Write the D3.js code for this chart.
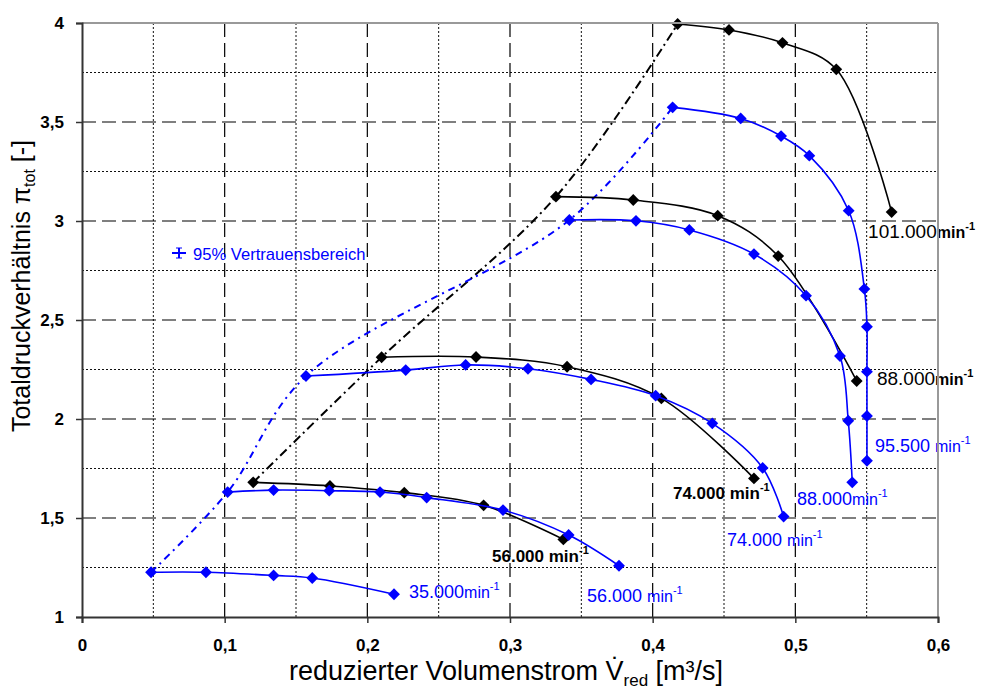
<!DOCTYPE html>
<html>
<head>
<meta charset="utf-8">
<style>
  html, body { margin: 0; padding: 0; background: #fff; }
  svg { display: block; font-family: "Liberation Sans", Arial, sans-serif; }
</style>
</head>
<body>
<svg id="chart" width="981" height="689"></svg>
<script src="https://cdnjs.cloudflare.com/ajax/libs/d3/7.8.5/d3.min.js"></script>
<script>
// ---- data ----
var xTicks = [0, 0.1, 0.2, 0.3, 0.4, 0.5, 0.6];
var yTicks = [1, 1.5, 2, 2.5, 3, 3.5, 4];
var xMinor = [0.05, 0.15, 0.25, 0.35, 0.45, 0.55];
var yMinor = [1.25, 1.75, 2.25, 2.75, 3.25, 3.75];

// black = measurement, blue = simulation
var black101X = [0.4175, 0.4535, 0.491, 0.5287, 0.5675];
var black101Y = [3.995, 3.965, 3.90, 3.766, 3.045];
var black88X = [0.3322, 0.3864, 0.4456, 0.488, 0.543];
var black88Y = [3.123, 3.106, 3.027, 2.823, 2.192];
var black74X = [0.210, 0.2762, 0.340, 0.4061, 0.471];
var black74Y = [2.312, 2.313, 2.264, 2.104, 1.700];
var black56X = [0.120, 0.1738, 0.2259, 0.2815, 0.3374];
var black56Y = [1.680, 1.662, 1.628, 1.564, 1.392];

var blue955X = [0.414, 0.4617, 0.490, 0.5098, 0.5374, 0.5484, 0.5502, 0.5502, 0.5502, 0.5502];
var blue955Y = [3.574, 3.518, 3.429, 3.330, 3.052, 2.657, 2.466, 2.239, 2.015, 1.789];
var blue88X = [0.3416, 0.3883, 0.4257, 0.471, 0.5075, 0.5313, 0.5371, 0.5399];
var blue88Y = [3.005, 3.001, 2.955, 2.833, 2.623, 2.318, 1.991, 1.680];
var blue74X = [0.157, 0.2269, 0.2689, 0.3126, 0.3568, 0.4021, 0.4418, 0.4771, 0.4918];
var blue74Y = [2.217, 2.247, 2.273, 2.254, 2.200, 2.118, 1.978, 1.753, 1.507];
var blue56X = [0.1021, 0.1343, 0.1733, 0.2089, 0.2416, 0.2951, 0.3411, 0.3764];
var blue56Y = [1.631, 1.641, 1.638, 1.631, 1.603, 1.540, 1.414, 1.259];
var blue35X = [0.0484, 0.0869, 0.1343, 0.1614, 0.2187];
var blue35Y = [1.226, 1.226, 1.210, 1.197, 1.115];

// surge lines run through the first point of each speed line
var surgeBlackX = [black56X[0], black74X[0], black88X[0], black101X[0]];
var surgeBlackY = [black56Y[0], black74Y[0], black88Y[0], black101Y[0]];
var surgeBlueX = [blue35X[0], blue56X[0], blue74X[0], blue88X[0], blue955X[0]];
var surgeBlueY = [blue35Y[0], blue56Y[0], blue74Y[0], blue88Y[0], blue955Y[0]];

function zip(xs, ys) { return xs.map(function (v, i) { return [v, ys[i]]; }); }

var series = [
  {pts: zip(black101X, black101Y), color: "#000"},
  {pts: zip(black88X, black88Y), color: "#000"},
  {pts: zip(black74X, black74Y), color: "#000"},
  {pts: zip(black56X, black56Y), color: "#000"},
  {pts: zip(blue955X, blue955Y), color: "#0000ff"},
  {pts: zip(blue88X, blue88Y), color: "#0000ff"},
  {pts: zip(blue74X, blue74Y), color: "#0000ff"},
  {pts: zip(blue56X, blue56Y), color: "#0000ff"},
  {pts: zip(blue35X, blue35Y), color: "#0000ff"}
];

// speed labels, anchored in data units
var speedLabels = [
  {num: "101.000", x: 0.551, y: 2.914, color: "#000", numW: "normal", numS: 19, unitW: "bold", unitS: 16},
  {num: "88.000", x: 0.5572, y: 2.172, color: "#000", numW: "normal", numS: 19, unitW: "bold", unitS: 16},
  {num: "74.000 ", x: 0.4142, y: 1.596, color: "#000", numW: "bold", numS: 17, unitW: "bold", unitS: 17},
  {num: "56.000 ", x: 0.2874, y: 1.278, color: "#000", numW: "bold", numS: 17, unitW: "bold", unitS: 17},
  {num: "95.500 ", x: 0.5558, y: 1.833, color: "#0000ff", numW: "normal", numS: 18, unitW: "normal", unitS: 16},
  {num: "88.000", x: 0.5012, y: 1.566, color: "#0000ff", numW: "normal", numS: 18, unitW: "normal", unitS: 16},
  {num: "74.000 ", x: 0.4521, y: 1.359, color: "#0000ff", numW: "normal", numS: 18, unitW: "normal", unitS: 16},
  {num: "56.000 ", x: 0.354, y: 1.076, color: "#0000ff", numW: "normal", numS: 18, unitW: "normal", unitS: 16},
  {num: "35.000", x: 0.2292, y: 1.096, color: "#0000ff", numW: "normal", numS: 18, unitW: "normal", unitS: 16}
];

// ---- drawing ----
var svg = d3.select("#chart");
svg.append("rect").attr("width", 981).attr("height", 689).attr("fill", "#fff");

var x = d3.scaleLinear().domain([0, 0.6]).range([82, 938]);
var y = d3.scaleLinear().domain([1, 4]).range([617, 23]);
var de = d3.formatLocale({decimal: ",", thousands: ".", grouping: [3], currency: ["", ""]});
var fmt = de.format(".1~f");

var grid = svg.append("g");
// minor dotted grid
grid.selectAll(".mx").data(xMinor).enter().append("line")
  .attr("x1", function (d) { return x(d); }).attr("x2", function (d) { return x(d); })
  .attr("y1", y(1)).attr("y2", y(4))
  .attr("stroke", "#111").attr("stroke-width", 1).attr("stroke-dasharray", "2,2");
grid.selectAll(".my").data(yMinor).enter().append("line")
  .attr("y1", function (d) { return y(d); }).attr("y2", function (d) { return y(d); })
  .attr("x1", x(0)).attr("x2", x(0.6))
  .attr("stroke", "#111").attr("stroke-width", 1).attr("stroke-dasharray", "2,2");
// major dashed grid
grid.selectAll(".gx").data(xTicks.slice(1, -1)).enter().append("line")
  .attr("x1", function (d) { return x(d); }).attr("x2", function (d) { return x(d); })
  .attr("y1", y(1)).attr("y2", y(4))
  .attr("stroke", "#000").attr("stroke-width", 1.2).attr("stroke-dasharray", "14,6");
grid.selectAll(".gy").data(yTicks.slice(1, -1)).enter().append("line")
  .attr("y1", function (d) { return y(d); }).attr("y2", function (d) { return y(d); })
  .attr("x1", x(0)).attr("x2", x(0.6))
  .attr("stroke", "#000").attr("stroke-width", 1.2).attr("stroke-dasharray", "14,6");

var line = d3.line()
  .x(function (d) { return x(d[0]); })
  .y(function (d) { return y(d[1]); })
  .curve(d3.curveCatmullRom.alpha(0.5));

// surge lines
svg.append("path").attr("d", line(zip(surgeBlackX, surgeBlackY)))
  .attr("fill", "none").attr("stroke", "#000").attr("stroke-width", 2)
  .attr("stroke-dasharray", "9,4,2,4");
svg.append("path").attr("d", line(zip(surgeBlueX, surgeBlueY)))
  .attr("fill", "none").attr("stroke", "#0000ff").attr("stroke-width", 2)
  .attr("stroke-dasharray", "7,5,2,5");

// speed lines + diamonds
var diamond = d3.symbol().type(d3.symbolSquare).size(70);
series.forEach(function (s) {
  svg.append("path").attr("d", line(s.pts))
    .attr("fill", "none").attr("stroke", s.color).attr("stroke-width", 1.6);
  svg.append("g").selectAll("path").data(s.pts).enter().append("path")
    .attr("d", diamond)
    .attr("transform", function (d) { return "translate(" + x(d[0]) + "," + y(d[1]) + ") rotate(45)"; })
    .attr("fill", s.color);
});

// labels
speedLabels.forEach(function (l) {
  var t = svg.append("text").attr("x", x(l.x)).attr("y", y(l.y)).attr("fill", l.color);
  t.append("tspan").attr("font-size", l.numS).attr("font-weight", l.numW).text(l.num);
  t.append("tspan").attr("font-size", l.unitS).attr("font-weight", l.unitW).text("min");
  t.append("tspan").attr("font-size", 11).attr("font-weight", l.unitW).attr("dy", -8).text("-1");
});

// legend
var lg = svg.append("g").attr("stroke", "#0000ff").attr("stroke-width", 2);
lg.append("line").attr("x1", 172).attr("x2", 186).attr("y1", 253).attr("y2", 253);
lg.append("line").attr("x1", 179).attr("x2", 179).attr("y1", 248).attr("y2", 258);
lg.append("line").attr("x1", 176).attr("x2", 182).attr("y1", 248).attr("y2", 248).attr("stroke-width", 1);
lg.append("line").attr("x1", 176).attr("x2", 182).attr("y1", 258).attr("y2", 258).attr("stroke-width", 1);
svg.append("text").attr("x", 193).attr("y", 260).attr("font-size", 16.6).attr("fill", "#0000ff")
  .text("95% Vertrauensbereich");

// frame
svg.append("line").attr("x1", x(0)).attr("x2", x(0.6)).attr("y1", y(4)).attr("y2", y(4))
  .attr("stroke", "#999").attr("stroke-width", 2);
svg.append("line").attr("x1", x(0.6)).attr("x2", x(0.6)).attr("y1", y(4)).attr("y2", y(1))
  .attr("stroke", "#999").attr("stroke-width", 2);

// axes
var xAxis = svg.append("g").attr("transform", "translate(0," + y(1) + ")")
  .call(d3.axisBottom(x).tickValues(xTicks).tickFormat(fmt).tickSizeOuter(0).tickSize(6).tickPadding(16));
var yAxis = svg.append("g").attr("transform", "translate(" + x(0) + ",0)")
  .call(d3.axisLeft(y).tickValues(yTicks).tickFormat(fmt).tickSizeOuter(0).tickSize(6).tickPadding(12));
[xAxis, yAxis].forEach(function (a) {
  a.select(".domain").attr("stroke", "#333").attr("stroke-width", 2);
  a.selectAll(".tick line").attr("stroke", "#333").attr("stroke-width", 1.5);
  a.selectAll(".tick text").attr("font-family", "Liberation Sans, Arial, sans-serif")
    .attr("font-size", 17).attr("font-weight", "bold").attr("fill", "#000");
});

// axis titles
var xt = svg.append("text").attr("x", 506).attr("y", 680).attr("text-anchor", "middle")
  .attr("font-size", 27).attr("fill", "#000");
xt.append("tspan").text("reduzierter Volumenstrom V\u0307");
xt.append("tspan").attr("font-size", 17).attr("dy", 6).text("red");
xt.append("tspan").attr("dy", -6).text(" [m\u00b3/s]");

var yt = svg.append("text").attr("transform", "translate(30,286) rotate(-90)")
  .attr("text-anchor", "middle").attr("font-size", 25).attr("fill", "#000");
yt.append("tspan").text("Totaldruckverh\u00e4ltnis \u03c0");
yt.append("tspan").attr("font-size", 16).attr("dy", 5).text("tot");
yt.append("tspan").attr("dy", -5).text(" [-]");
</script>
</body>
</html>
